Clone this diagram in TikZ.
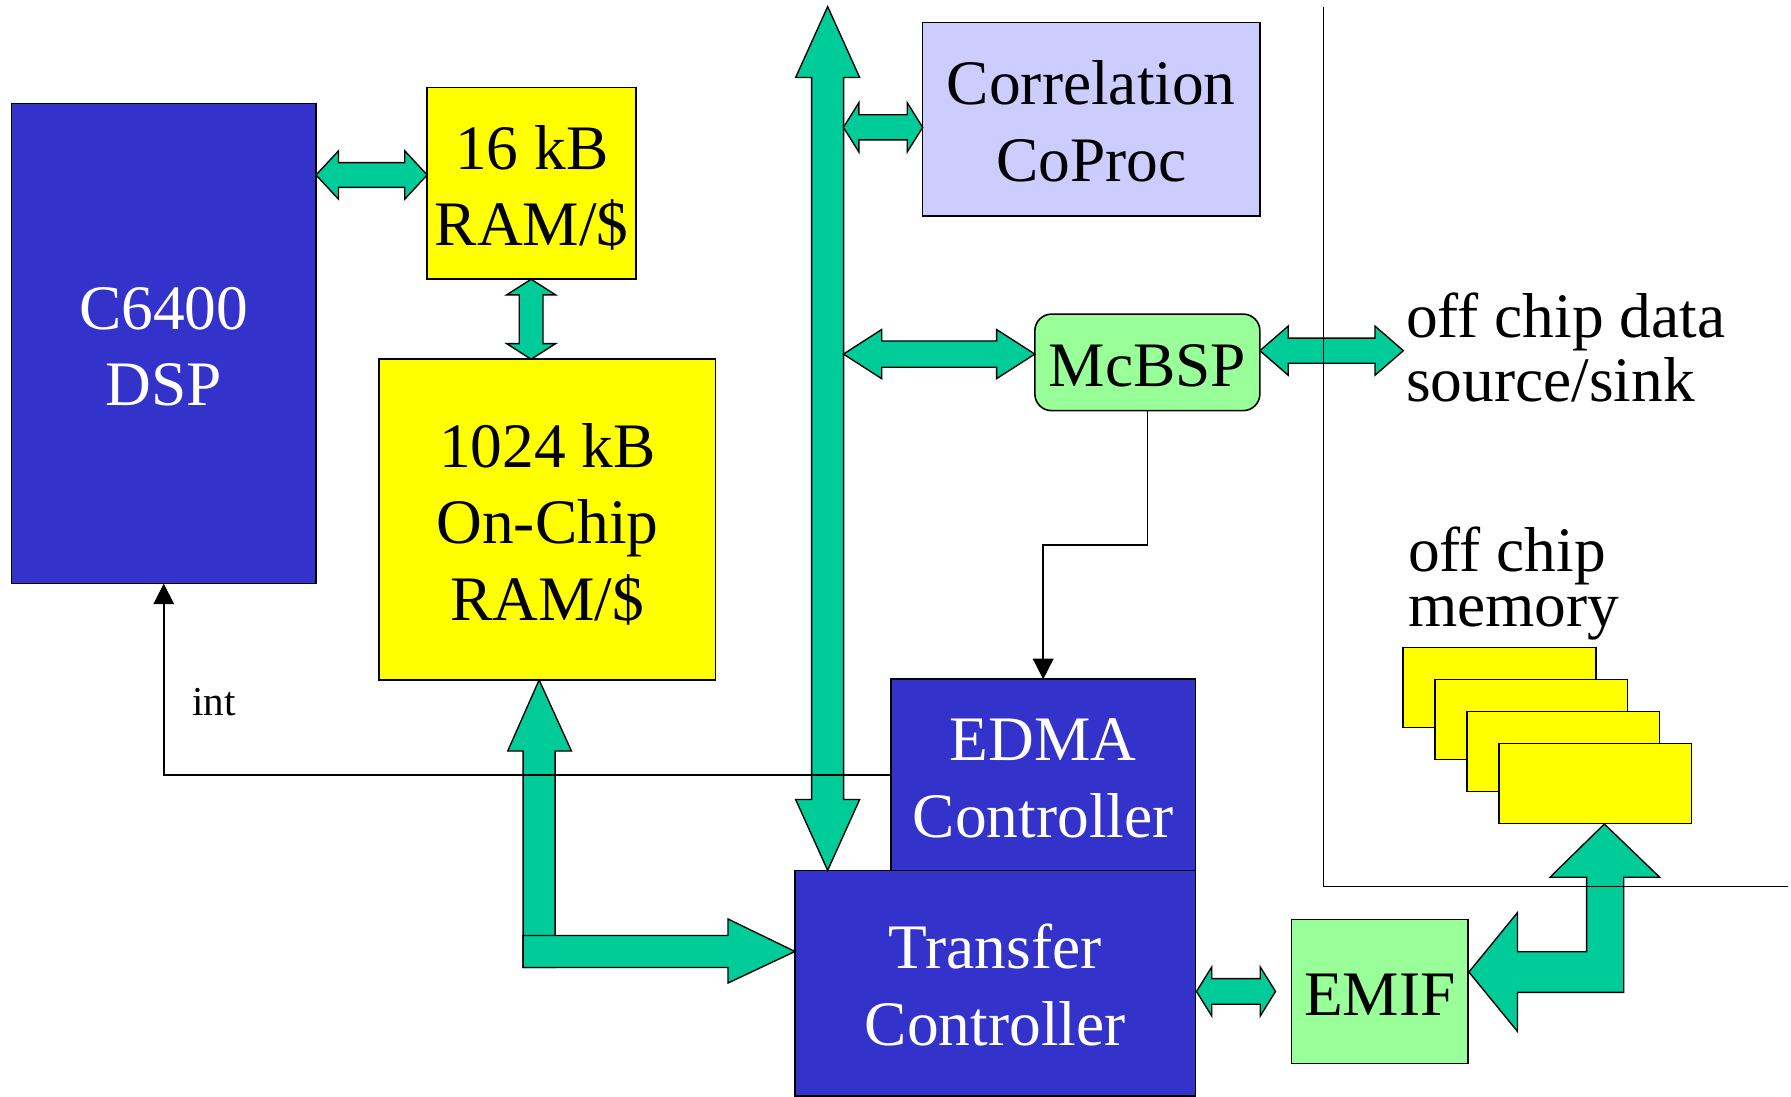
\documentclass[tikz,border=0pt]{standalone}
\usepackage{fontspec}
\setmainfont{Liberation Serif}
\usetikzlibrary{arrows.meta}
\definecolor{dspblue}{HTML}{3333CC}
\definecolor{ramyellow}{HTML}{FFFF00}
\definecolor{coprocblue}{HTML}{CCCCFF}
\definecolor{pgreen}{HTML}{99FF99}
\definecolor{busgreen}{HTML}{00CC99}
\newcommand{\boxfont}{\fontsize{55.5}{67}\selectfont}
\newcommand{\intfont}{\fontsize{36}{43}\selectfont}
\newcommand{\firstpad}{\rule{0pt}{48pt}}
\newcommand{\lastpad}{\rule[-6pt]{0pt}{6pt}}
\tikzset{
  blk/.style={draw=black, line width=1.4pt, inner sep=0pt, outer sep=0pt, align=center, font=\boxfont},
  bluebox/.style={blk, fill=dspblue, text=white},
  yelbox/.style={blk, fill=ramyellow},
  lavbox/.style={blk, fill=coprocblue},
  grnbox/.style={blk, fill=pgreen},
  membox/.style={draw=black, line width=1.4pt, fill=ramyellow, inner sep=0pt, outer sep=0pt, minimum width=168.5pt, minimum height=70pt},
  barrow/.style={draw=black, line width=1.2pt, fill=busgreen, line join=miter},
  sig/.style={draw=black, line width=1.5pt},
  sigarrow/.style={sig, -{Triangle[length=18pt,width=18pt]}},
  freetext/.style={inner sep=0pt, outer sep=0pt, font=\boxfont, anchor=base west},
}
% horizontal double block arrow: left tip x, right tip x, y centre, shaft half, head half, head length
\newcommand{\HDbl}[6]{%
  \draw[barrow] (#1,#3) -- ({#1+#6},{#3-#5}) -- ({#1+#6},{#3-#4}) -- ({#2-#6},{#3-#4}) -- ({#2-#6},{#3-#5}) -- (#2,#3)
    -- ({#2-#6},{#3+#5}) -- ({#2-#6},{#3+#4}) -- ({#1+#6},{#3+#4}) -- ({#1+#6},{#3+#5}) -- cycle;}
% vertical double block arrow: x centre, top tip y, bottom tip y, shaft half, head half, head length
\newcommand{\VDbl}[6]{%
  \draw[barrow] (#1,#2) -- ({#1+#5},{#2+#6}) -- ({#1+#4},{#2+#6}) -- ({#1+#4},{#3-#6}) -- ({#1+#5},{#3-#6}) -- (#1,#3)
    -- ({#1-#5},{#3-#6}) -- ({#1-#4},{#3-#6}) -- ({#1-#4},{#2+#6}) -- ({#1-#5},{#2+#6}) -- cycle;}
\begin{document}
\begin{tikzpicture}[x=1pt, y=-1pt]
\useasboundingbox (0,0) rectangle (1568,960);
\fill[white] (0,0) rectangle (1568,960);

% boxes
\node[bluebox, minimum width=266.7pt, minimum height=420.5pt] (dsp) at (143.35,300.75) {\firstpad C6400\\DSP\lastpad};
\node[yelbox, minimum width=183pt, minimum height=168pt] (ram16) at (465.5,160.5) {\firstpad 16 kB\\RAM/\$\lastpad};
\node[yelbox, minimum width=294.5pt, minimum height=280.8pt] (ram1024) at (479.25,454.9) {\firstpad 1024 kB\\On-Chip\\RAM/\$\lastpad};
\node[lavbox, minimum width=295.2pt, minimum height=169.2pt] (coproc) at (955.4,104.4) {\firstpad Correlation\\CoProc\lastpad};
\node[grnbox, rounded corners=14.6pt, minimum width=197pt, minimum height=84.5pt] (mcbsp) at (1004.5,317.25) {\firstpad McBSP\lastpad};
\node[bluebox, minimum width=266.6pt, minimum height=167.3pt] (edma) at (913.3,678.35) {\firstpad EDMA\\Controller\lastpad};
\node[bluebox, minimum width=350.6pt, minimum height=197.5pt] (tc) at (871.3,860.75) {\firstpad Transfer\\Controller\lastpad};
\node[grnbox, minimum width=154.7pt, minimum height=126.1pt] (emif) at (1207.95,867.95) {\firstpad EMIF\lastpad};

% off-chip memory stack
\node[membox] (mem1) at (1312.75,602) {};
\node[membox] (mem2) at (1340.75,630) {};
\node[membox] (mem3) at (1368.75,658) {};
\node[membox] (mem4) at (1396.75,686) {};

% free texts
\node[freetext] (offa) at (1231,295.3) {off chip data};
\node[freetext] (offb) at (1231,351.7) {source/sink};
\node[freetext] (mema) at (1232.7,500.5) {off chip};
\node[freetext] (memb) at (1232.7,548.6) {memory};
\node[inner sep=0pt, font=\intfont, anchor=base west] (intlbl) at (168,626) {int};

% block arrows
\HDbl{276.7}{374}{153.2}{10.8}{21.1}{19.6}
\VDbl{465}{244.5}{314.5}{10.4}{21.5}{13.7}
\VDbl{724.6}{5.8}{762}{14}{28}{62}
\HDbl{738.4}{807.8}{111.5}{11}{21.5}{13.5}
\HDbl{738.4}{906}{310}{11.5}{21.5}{33.5}
\HDbl{1103}{1228.6}{307}{11}{21.5}{24.8}
\HDbl{1047.5}{1116.7}{868}{11.25}{21.5}{13.4}

% L-shaped arrow from on-chip RAM to transfer controller
\draw[barrow] (472,595.3) -- (500.3,657.5) -- (486,657.5) -- (486,847) -- (458,847) -- (458,657.5) -- (444.5,657.5) -- cycle;
\draw[barrow] (458,819) -- (637.4,819) -- (637.4,804.6) -- (696,833) -- (637.4,860.6) -- (637.4,847) -- (458,847) -- cycle;

% L-shaped arrow between off-chip memory and EMIF
\draw[barrow] (1404.6,721.4) -- (1453,768) -- (1421.5,768) -- (1421.5,868.8) -- (1328.5,868.8) -- (1328.5,903)
  -- (1286,851) -- (1328.5,799) -- (1328.5,833.2) -- (1389,833.2) -- (1389,768) -- (1357,768) -- cycle;

% chip boundary
\coordinate (bndtop) at (1158.6,5.8);
\coordinate (bndcorner) at (1158.6,776);
\coordinate (bndright) at (1565,776);
\draw[sig] (bndtop) -- (bndcorner) -- (bndright);

% signal lines
\coordinate (bend) at (1004.5,476.9);
\draw[sigarrow] (mcbsp.south) -- (bend) -| (edma.north);
\draw[sigarrow] (edma.west) -| (dsp.south);
\end{tikzpicture}
\end{document}
